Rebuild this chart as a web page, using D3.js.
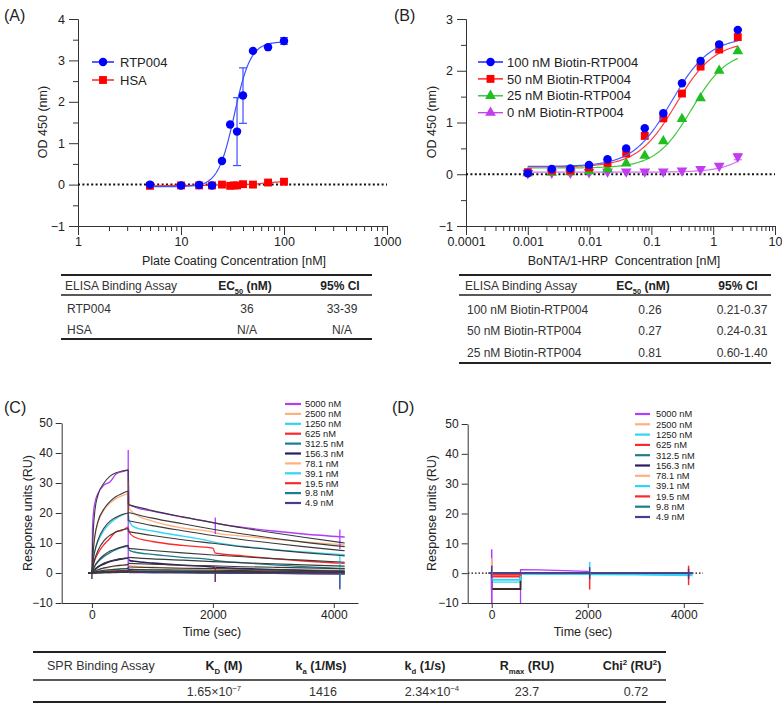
<!DOCTYPE html>
<html>
<head>
<meta charset="utf-8">
<script src="https://cdn.jsdelivr.net/npm/d3@7"></script>
<style>
  body { margin: 0; background: #fff; }
  svg { display: block; font-family: "Liberation Sans", Arial, sans-serif; }
  .narrow { font-family: "Liberation Sans Narrow", "Arial Narrow", "Liberation Sans", sans-serif; }
  .axis path, .axis line { stroke: #333; }
  .axis text { fill: #222; }
</style>
</head>
<body>
<div id="wrapper"></div>
<script>
// ---------- panel A : ELISA, plate coating ----------
const concA = [5, 10, 15, 20, 25, 30, 35, 40, 50, 70, 100];
const rtp004 = [0.0, -0.02, -0.01, -0.02, 0.57, 1.45, 1.28, 2.15, 3.23, 3.32, 3.47];
const rtp004Err = [0, 0, 0, 0, 0, 0, 0.82, 0.67, 0, 0, 0.08];
const concHSA = [5, 10, 15, 20, 25, 30, 32.5, 35, 40, 50, 70, 100];
const hsa = [-0.03, -0.02, -0.02, -0.02, 0.0, -0.03, -0.02, -0.02, 0.01, 0.0, 0.05, 0.07];
// 4PL fit: bottom, top, EC50, hill
const fitRTP004 = [-0.05, 3.45, 33, 5.5];
const tableARows = [["RTP004", "36", "33-39"], ["HSA", "N/A", "N/A"]];

// ---------- panel B : ELISA, BoNTA/1-HRP ----------
const concB = [0.001, 0.00244, 0.00488, 0.00977, 0.0195, 0.0391, 0.0781, 0.156, 0.3125, 0.625, 1.25, 2.5];
const b100 = [0.02, 0.10, 0.11, 0.18, 0.29, 0.50, 0.89, 1.18, 1.76, 2.19, 2.51, 2.79];
const b50 = [0.04, 0.07, 0.07, 0.13, 0.22, 0.40, 0.74, 1.08, 1.56, 2.08, 2.41, 2.65];
const b25 = [0.02, 0.03, 0.04, 0.06, 0.10, 0.21, 0.36, 0.64, 1.07, 1.47, 2.00, 2.38];
const b0 = [0.02, 0.03, 0.03, 0.04, 0.05, 0.05, 0.05, 0.05, 0.07, 0.10, 0.16, 0.34];
const b0Err = [0, 0, 0, 0, 0, 0, 0, 0, 0, 0, 0, 0.06];
const fitB100 = [0.15, 2.65, 0.21, 1.4];
const fitB50 = [0.14, 2.57, 0.25, 1.4];
const fitB25 = [0.12, 2.40, 0.45, 1.5];
const fitB0 = [0.04, 2.5, 12, 1.5];
const seriesB = ["100 nM Biotin-RTP004", "50 nM Biotin-RTP004", "25 nM Biotin-RTP004", "0 nM Biotin-RTP004"];
const tableBRows = [["100 nM Biotin-RTP004", "0.26", "0.21-0.37"],
                    ["50 nM Biotin-RTP004", "0.27", "0.24-0.31"],
                    ["25 nM Biotin-RTP004", "0.81", "0.60-1.40"]];

// ---------- panel C : SPR sensorgrams (data + 1:1 fits) ----------
const sprConc = ["5000 nM", "2500 nM", "1250 nM", "625 nM", "312.5 nM", "156.3 nM",
                 "78.1 nM", "39.1 nM", "19.5 nM", "9.8 nM", "4.9 nM"];
const tOn = [-60, 0, 10, 25, 50, 100, 200, 300, 400, 500, 600];
const onC = [
  [0, 0, 15, 20, 23.5, 26.5, 29.3, 30.4, 33, 33.8, 34.4],
  [0, 0, 4, 8.5, 12.4, 16.8, 21, 23.3, 24.8, 25.8, 26.5],
  [0, 0, 2.5, 5.2, 7.5, 10.5, 14.3, 16.6, 18.2, 19.3, 20],
  [0, 0, 1.5, 3, 4.5, 6.6, 9.5, 11.6, 13.8, 14.2, 15.4],
  [0, 0, 0.7, 1.5, 2.4, 3.7, 5.5, 6.8, 7.8, 8.5, 9],
  [0, 0, 0.3, 0.7, 1.2, 2, 3, 3.8, 4.3, 4.7, 5],
  [0, 0, 0.2, 0.4, 0.6, 1.0, 1.6, 2.0, 2.4, 2.6, 2.8],
  [0, 0, 0.1, 0.2, 0.3, 0.5, 0.8, 1.0, 1.2, 1.4, 1.5],
  [0, 0, 0.05, 0.1, 0.15, 0.3, 0.45, 0.6, 0.7, 0.8, 0.9],
  [0, 0, 0, 0.05, 0.1, 0.15, 0.25, 0.3, 0.4, 0.45, 0.5],
  [0, 0, 0, 0, 0.05, 0.1, 0.15, 0.2, 0.2, 0.25, 0.3]
];
const tOff = [620, 700, 1000, 1500, 2000, 2040, 2500, 3000, 3500, 4180];
const offC = [
  [22.8, 22.0, 20.6, 18.6, 16.8, 16.6, 15.2, 14.0, 13.0, 12.0],
  [21.5, 19.8, 17.3, 15.0, 13.6, 13.4, 12.3, 11.3, 10.4, 9.4],
  [17.2, 15.3, 14.0, 12.3, 10.4, 10.2, 8.9, 7.9, 7.0, 6.1],
  [13.5, 12.0, 10.5, 9.2, 8.3, 6.6, 5.7, 4.8, 4.0, 3.2],
  [7.6, 7.0, 6.2, 5.2, 4.4, 4.2, 3.4, 2.7, 2.1, 1.5],
  [4.2, 3.9, 3.3, 2.6, 2.0, 1.9, 1.5, 1.1, 0.8, 0.5],
  [2.4, 2.2, 1.9, 1.5, 1.2, 1.1, 0.9, 0.6, 0.4, 0.2],
  [1.2, 1.1, 0.9, 0.7, 0.5, 0.4, 0.3, 0.1, 0, -0.1],
  [0.7, 0.6, 0.5, 0.4, 0.2, 0.2, 0.1, 0, -0.1, -0.2],
  [0.4, 0.35, 0.3, 0.2, 0.1, 0.1, 0, -0.1, -0.1, -0.2],
  [0.2, 0.2, 0.1, 0.1, 0, 0, -0.1, -0.1, -0.2, -0.2]
];
const fitOnC = [
  [0, 0, 8, 15, 21, 26, 30, 32.3, 33.4, 34, 34.3],
  [0, 0, 3.5, 8, 12.6, 17.2, 21.4, 23.9, 25.5, 26.5, 27.3],
  [0, 0, 2, 4.8, 7.5, 11, 15, 17.3, 18.6, 19.5, 20],
  [0, 0, 1.2, 2.8, 4.8, 7.5, 10.8, 12.6, 13.7, 14.4, 14.8],
  [0, 0, 0.6, 1.4, 2.5, 4, 6, 7.3, 8.1, 8.7, 9.2],
  [0, 0, 0.3, 0.7, 1.3, 2.1, 3.3, 4.0, 4.5, 4.8, 5.0],
  [0, 0, 0.15, 0.35, 0.65, 1.1, 1.7, 2.1, 2.4, 2.6, 2.8],
  [0, 0, 0.08, 0.18, 0.33, 0.55, 0.9, 1.1, 1.25, 1.4, 1.5],
  [0, 0, 0.04, 0.09, 0.17, 0.28, 0.45, 0.55, 0.63, 0.7, 0.75],
  [0, 0, 0.02, 0.05, 0.08, 0.14, 0.22, 0.28, 0.32, 0.35, 0.38],
  [0, 0, 0.01, 0.02, 0.04, 0.07, 0.11, 0.14, 0.16, 0.18, 0.19]
];
const tFitOff = [600, 1000, 1500, 2000, 2500, 3000, 3500, 4180];
const fitOffC = [
  [22.8, 20.8, 18.7, 16.8, 15.0, 13.4, 11.9, 10.0],
  [20.2, 18.3, 16.4, 14.6, 13.0, 11.6, 10.3, 8.8],
  [17.4, 15.8, 14.1, 12.5, 11.1, 9.9, 8.8, 7.4],
  [13.8, 12.5, 11.1, 9.9, 8.7, 7.7, 6.8, 5.7],
  [8.2, 7.5, 6.7, 6.0, 5.4, 4.8, 4.3, 3.6],
  [5.2, 4.7, 4.3, 3.8, 3.4, 3.1, 2.7, 2.3],
  [3.2, 2.9, 2.6, 2.4, 2.1, 1.9, 1.7, 1.4],
  [2.0, 1.8, 1.6, 1.5, 1.3, 1.2, 1.0, 0.9],
  [1.2, 1.1, 1.0, 0.9, 0.8, 0.7, 0.6, 0.5],
  [0.7, 0.6, 0.6, 0.5, 0.5, 0.4, 0.4, 0.3],
  [0.4, 0.35, 0.3, 0.3, 0.25, 0.2, 0.2, 0.2]
];
// injection spikes: time, low, high, series index
const spikesC = [[0, -2, 1, 5], [600, 0, 41, 0], [600, 20, 30.5, 1], [2040, 13, 18.5, 0],
                 [2040, -3, 2, 3], [2040, -3, 0.5, 10], [4100, 8, 14.5, 0], [4100, -5, 6, 2],
                 [4100, -5.5, 0.5, 10]];

// ---------- panel D : SPR control surface ----------
const onLevelD = [-14, -0.3, -3.0, -1.2, 0, -5.3, 0, -2.2, -0.6, 0, 0.1];
const tOffD = [600, 1000, 2000, 2040, 3000, 4180];
const offD = [
  [1.2, 1.1, 0.6, 0.1, 0, -0.1],
  [0.1, 0, 0, 0, -0.1, -0.2],
  [-0.2, -0.3, -0.4, -0.5, -0.6, -0.8],
  [0, 0, -0.1, -0.1, -0.1, -0.2],
  [0, 0, 0, 0, -0.1, -0.1],
  [0, 0, 0, 0, 0, 0],
  [0, 0, 0, 0, -0.1, -0.1],
  [-0.1, -0.2, -0.2, -0.3, -0.3, -0.5],
  [0, 0, 0, 0, 0, 0],
  [0.1, 0.1, 0, 0, 0, 0],
  [0.1, 0.1, 0.1, 0, 0, 0]
];
const spikesD = [[0, -10, 8, 0], [0, -1, 5, 1], [0, -1.5, 2.5, 10], [2040, -1, 3.8, 2],
                 [2040, -5.5, 0, 3], [2040, -2, 2, 10], [4100, -4, 2.5, 3], [4100, -2, 1.5, 10]];

// ---------- SPR table ----------
const sprHead = [[["K"], ["D", "sub"], [" (M)"]], [["k"], ["a", "sub"], [" (1/Ms)"]],
                 [["k"], ["d", "sub"], [" (1/s)"]], [["R"], ["max", "sub"], [" (RU)"]],
                 [["Chi"], ["2", "sup"], [" (RU"], ["2", "sup"], [")"]]];
const sprVals = [[["1.65×10"], ["−7", "sup"]], [["1416"]], [["2.34×10"], ["−4", "sup"]], [["23.7"]], [["0.72"]]];

// ---------- styles ----------
const sprColors = ["#b03cff", "#ffb07c", "#30d4f4", "#ff2828", "#1d7d8c", "#2c1d60",
                   "#ffb07c", "#30d4f4", "#ff2828", "#1d7d8c", "#4a3c8c"];

const svg = d3.select("#wrapper").append("svg").attr("width", 782).attr("height", 707);

function richText(g, x, y, parts, anchor, size, weight) {
  const t = g.append("text").attr("x", x).attr("y", y).attr("text-anchor", anchor)
    .attr("font-size", size).attr("font-weight", weight || "normal").attr("fill", "#222");
  let shift = 0;
  parts.forEach(p => {
    const k = p[1] || "";
    const target = k === "sub" ? size * 0.3 : k === "sup" ? -size * 0.4 : 0;
    t.append("tspan").attr("dy", target - shift).attr("font-size", k ? size * 0.62 : size).text(p[0]);
    shift = target;
  });
  return t;
}

function fourPL(p) {
  return x => p[0] + (p[1] - p[0]) / (1 + Math.pow(p[2] / x, p[3]));
}

function logAxes(g, x, y, yTicks, yHalf, xTicks, fmt) {
  const [x0] = x.range();
  const [y0] = y.range();
  g.append("g").attr("class", "axis").attr("transform", `translate(${x0},0)`)
    .call(d3.axisLeft(y).tickValues(yHalf).tickSize(5).tickSizeOuter(0).tickFormat(""));
  g.append("g").attr("class", "axis").attr("transform", `translate(${x0},0)`)
    .call(d3.axisLeft(y).tickValues(yTicks).tickSize(9).tickPadding(4).tickSizeOuter(0).tickFormat(d3.format("d")))
    .attr("font-size", 12.5).attr("font-family", null);
  const minor = [];
  xTicks.slice(0, -1).forEach(d => { for (let m = 2; m < 10; m++) minor.push(d * m); });
  g.append("g").attr("class", "axis").attr("transform", `translate(0,${y0})`)
    .call(d3.axisBottom(x).tickValues(minor).tickSize(5).tickSizeOuter(0).tickFormat(""));
  g.append("g").attr("class", "axis").attr("transform", `translate(0,${y0})`)
    .call(d3.axisBottom(x).tickValues(xTicks).tickSize(9).tickPadding(2).tickSizeOuter(0).tickFormat(fmt))
    .attr("font-size", 12.5).attr("font-family", null);
  // dotted zero line
  g.append("line").attr("x1", x.range()[0]).attr("x2", x.range()[1])
    .attr("y1", y(0)).attr("y2", y(0))
    .attr("stroke", "#111").attr("stroke-width", 2).attr("stroke-dasharray", "2,2.4");
}

function drawSeries(g, x, y, xs, ys, errs, color, symbol, rotate, fit, fitColor, domain) {
  if (fit) {
    const f = fourPL(fit);
    const pts = d3.range(0, 201).map(i => {
      const lx = Math.log10(domain[0]) + (Math.log10(domain[1]) - Math.log10(domain[0])) * i / 200;
      return [Math.pow(10, lx), f(Math.pow(10, lx))];
    });
    g.append("path").attr("d", d3.line().x(d => x(d[0])).y(d => y(d[1]))(pts))
      .attr("fill", "none").attr("stroke", fitColor).attr("stroke-width", 1.2);
  } else {
    g.append("path").attr("d", d3.line().x((d, i) => x(xs[i])).y(d => y(d))(ys))
      .attr("fill", "none").attr("stroke", fitColor).attr("stroke-width", 1.2);
  }
  if (errs) {
    xs.forEach((c, i) => {
      if (!errs[i]) return;
      const cx = x(c);
      const eg = g.append("g").attr("stroke", fitColor).attr("stroke-width", 1.2);
      eg.append("line").attr("x1", cx).attr("x2", cx).attr("y1", y(ys[i] - errs[i])).attr("y2", y(ys[i] + errs[i]));
      [ys[i] - errs[i], ys[i] + errs[i]].forEach(v =>
        eg.append("line").attr("x1", cx - 4).attr("x2", cx + 4).attr("y1", y(v)).attr("y2", y(v)));
    });
  }
  g.append("g").selectAll("path").data(ys).join("path")
    .attr("d", d3.symbol(symbol[0], symbol[1]))
    .attr("transform", (d, i) => `translate(${x(xs[i])},${y(d)}) rotate(${rotate})`)
    .attr("fill", color);
}

function legendRow(g, x1, x2, y, color, symbol, rotate, label, tx, size) {
  g.append("line").attr("x1", x1).attr("x2", x2).attr("y1", y).attr("y2", y)
    .attr("stroke", color).attr("stroke-width", 1.3);
  g.append("path").attr("d", d3.symbol(symbol[0], symbol[1]))
    .attr("transform", `translate(${(x1 + x2) / 2},${y}) rotate(${rotate})`).attr("fill", color);
  g.append("text").attr("x", tx).attr("y", y + size * 0.36).attr("font-size", size)
    .attr("fill", "#222").text(label);
}

function elisaTable(g, x0, x1, top, mid, bot, cols, headY, rowYs, rows, valCols) {
  [top, mid, bot].forEach((yy, i) => g.append("line").attr("x1", x0).attr("x2", x1)
    .attr("y1", yy).attr("y2", yy).attr("stroke", "#222").attr("stroke-width", i === 1 ? 1.6 : 2));
  richText(g, cols[0], headY, [["ELISA Binding Assay"]], "start", 12, "normal").attr("fill", "#333");
  richText(g, cols[1], headY, [["EC"], ["50", "sub"], [" (nM)"]], "middle", 12, "bold");
  richText(g, cols[2], headY, [["95% CI"]], "middle", 12, "bold");
  rows.forEach((r, i) => {
    richText(g, cols[0] + 2, rowYs[i], [[r[0]]], "start", 12, "normal").attr("fill", "#333");
    richText(g, valCols[0], rowYs[i], [[r[1]]], "middle", 12, "normal").attr("fill", "#333");
    richText(g, valCols[1], rowYs[i], [[r[2]]], "middle", 12, "normal").attr("fill", "#333");
  });
}

// ================= Panel A =================
const gA = svg.append("g");
const xA = d3.scaleLog().domain([1, 1000]).range([78, 387]);
const yA = d3.scaleLinear().domain([-1, 4]).range([226, 19]);
logAxes(gA, xA, yA, [-1, 0, 1, 2, 3, 4], d3.range(-0.5, 4, 1), [1, 10, 100, 1000], d3.format(""));
drawSeries(gA, xA, yA, concHSA, hsa, null, "#ff0000", [d3.symbolSquare, 62], 0, null, "#ff3030");
drawSeries(gA, xA, yA, concA, rtp004, rtp004Err, "#0000ff", [d3.symbolCircle, 56], 0, fitRTP004, "#3c50ff", [5, 100]);
legendRow(gA, 92, 114, 62, "#0000ff", [d3.symbolCircle, 56], 0, "RTP004", 120, 13);
legendRow(gA, 92, 114, 80, "#ff0000", [d3.symbolSquare, 62], 0, "HSA", 120, 13);
gA.append("text").attr("x", 234).attr("y", 265).attr("text-anchor", "middle").attr("font-size", 12.5)
  .attr("fill", "#222").text("Plate Coating Concentration [nM]");
gA.append("text").attr("transform", "translate(47,122) rotate(-90)").attr("text-anchor", "middle")
  .attr("font-size", 12.5).attr("fill", "#222").text("OD 450 (nm)");
gA.append("text").attr("x", 4).attr("y", 21).attr("font-size", 16).attr("fill", "#222").text("(A)");
elisaTable(gA, 61, 372, 275, 295, 339, [65, 245, 340], 290, [313, 334], tableARows, [247, 342]);

// ================= Panel B =================
const gB = svg.append("g");
const xB = d3.scaleLog().domain([0.0001, 10]).range([466, 775]);
const yB = d3.scaleLinear().domain([-1, 3]).range([226, 19]);
logAxes(gB, xB, yB, [-1, 0, 1, 2, 3], d3.range(-0.5, 3, 1), [0.0001, 0.001, 0.01, 0.1, 1, 10], d => String(d));
const bSets = [
  [b0, b0Err, "#c23cf0", [d3.symbolTriangle, 50], 180, fitB0, "#d070f4"],
  [b25, null, "#1fbf1f", [d3.symbolTriangle, 50], 0, fitB25, "#40c840"],
  [b50, null, "#ff0000", [d3.symbolSquare, 62], 0, fitB50, "#ff4040"],
  [b100, null, "#0000ff", [d3.symbolCircle, 56], 0, fitB100, "#4a5cff"]
];
bSets.forEach(s => drawSeries(gB, xB, yB, concB, s[0], s[1], s[2], s[3], s[4], s[5], s[6], [0.001, 2.5]));
bSets.slice().reverse().forEach((s, i) =>
  legendRow(gB, 478, 503, 62 + i * 16.9, s[2], s[3], 0, seriesB[i], 507, 13));
gB.append("text").attr("x", 624).attr("y", 265).attr("text-anchor", "middle").attr("font-size", 12.5)
  .attr("fill", "#222").attr("xml:space", "preserve").text("BoNTA/1-HRP  Concentration [nM]");
gB.append("text").attr("transform", "translate(436,122) rotate(-90)").attr("text-anchor", "middle")
  .attr("font-size", 12.5).attr("fill", "#222").text("OD 450 (nm)");
gB.append("text").attr("x", 394).attr("y", 21).attr("font-size", 16).attr("fill", "#222").text("(B)");
elisaTable(gB, 459, 771, 275, 295, 363, [465, 643, 738], 290, [314, 335, 357], tableBRows, [650, 742]);

// ================= SPR panels =================
function sprAxes(g, x, y) {
  g.append("g").attr("class", "axis").attr("transform", `translate(${x.range()[0]},0)`)
    .call(d3.axisLeft(y).tickValues([-10, 0, 10, 20, 30, 40, 50]).tickSize(6).tickSizeOuter(0).tickFormat(d3.format("d")))
    .attr("font-size", 12).attr("font-family", null);
  g.append("g").attr("class", "axis").attr("transform", `translate(0,${y.range()[0]})`)
    .call(d3.axisBottom(x).tickValues([0, 2000, 4000]).tickSize(5).tickPadding(2).tickSizeOuter(0).tickFormat(d3.format("")))
    .attr("font-size", 12).attr("font-family", null);
}

function sprLegend(g, x1, x2, tx, y0, dy) {
  sprConc.forEach((c, i) => {
    g.append("line").attr("x1", x1).attr("x2", x2).attr("y1", y0 + i * dy).attr("y2", y0 + i * dy)
      .attr("stroke", sprColors[i]).attr("stroke-width", 2.2);
    g.append("text").attr("class", "narrow").attr("x", tx).attr("y", y0 + i * dy + 3.3)
      .attr("font-size", 9.3).attr("fill", "#222").text(c);
  });
}

function sprLabels(g, cx, cy, ylx, label, lx) {
  g.append("text").attr("class", "narrow").attr("x", cx).attr("y", 636).attr("text-anchor", "middle")
    .attr("font-size", 12.5).attr("fill", "#222").text("Time (sec)");
  g.append("text").attr("transform", `translate(${ylx},${cy}) rotate(-90)`).attr("text-anchor", "middle")
    .attr("font-size", 12.5).attr("fill", "#222").text("Response units (RU)");
  g.append("text").attr("x", lx).attr("y", 413).attr("font-size", 16).attr("fill", "#222").text(label);
}

const lineT = (x, y) => d3.line().x(d => x(d[0])).y(d => y(d[1])).curve(d3.curveMonotoneX);

// ----- C -----
const gC = svg.append("g");
const xC = d3.scaleLinear().domain([-500, 4400]).range([61.7, 358]);
const yC = d3.scaleLinear().domain([-10, 50]).range([603, 423]);
svg.append("clipPath").attr("id", "clipC").append("rect").attr("x", 62).attr("y", 420).attr("width", 300).attr("height", 183);
const plotC = gC.append("g").attr("clip-path", "url(#clipC)");
const lnC = lineT(xC, yC);
sprConc.forEach((c, i) => {
  const on = tOn.map((t, j) => [t, onC[i][j]]);
  const off = tOff.map((t, j) => [t, offC[i][j]]);
  const w = i < 5 ? 1.3 : 1.6;
  plotC.append("path").attr("d", lnC(on)).attr("fill", "none").attr("stroke", sprColors[i]).attr("stroke-width", w);
  plotC.append("path").attr("d", lnC([[600, onC[i][onC[i].length - 1]], ...off]))
    .attr("fill", "none").attr("stroke", sprColors[i]).attr("stroke-width", w);
});
spikesC.forEach(s => plotC.append("line").attr("x1", xC(s[0])).attr("x2", xC(s[0]))
  .attr("y1", yC(s[1])).attr("y2", yC(s[2])).attr("stroke", sprColors[s[3]]).attr("stroke-width", 1.3));
sprConc.forEach((c, i) => {
  const on = tOn.map((t, j) => [t, fitOnC[i][j]]);
  const off = tFitOff.map((t, j) => [t, fitOffC[i][j]]);
  const endOn = fitOnC[i][fitOnC[i].length - 1];
  plotC.append("path").attr("d", lnC(on)).attr("fill", "none").attr("stroke", "#3a3a3a").attr("stroke-width", 1.1);
  plotC.append("path").attr("d", lnC(off)).attr("fill", "none").attr("stroke", "#3a3a3a").attr("stroke-width", 1.1);
  plotC.append("line").attr("x1", xC(600)).attr("x2", xC(600)).attr("y1", yC(endOn)).attr("y2", yC(fitOffC[i][0]))
    .attr("stroke", "#3a3a3a").attr("stroke-width", 1.1);
});
sprAxes(gC, xC, yC);
sprLegend(gC, 285, 301, 305, 404, 9.9);
sprLabels(gC, 212, 513, 32, "(C)", 4);

// ----- D -----
const gD = svg.append("g");
const xD = d3.scaleLinear().domain([-500, 4400]).range([467.7, 703]);
const yD = d3.scaleLinear().domain([-10, 50]).range([603, 424]);
svg.append("clipPath").attr("id", "clipD").append("rect").attr("x", 468).attr("y", 420).attr("width", 240).attr("height", 183);
const plotD = gD.append("g").attr("clip-path", "url(#clipD)");
plotD.append("line").attr("x1", 468).attr("x2", 703).attr("y1", yD(0)).attr("y2", yD(0))
  .attr("stroke", "#111").attr("stroke-width", 1.3).attr("stroke-dasharray", "1.5,2");
const lnD = d3.line().x(d => xD(d[0])).y(d => yD(d[1]));
sprConc.forEach((c, i) => {
  const L = onLevelD[i];
  const col = i === 5 ? "#3b2a26" : sprColors[i];
  const w = i >= 5 ? 1.8 : 1.3;
  plotD.append("path").attr("d", lnD([[-60, 0], [0, 0], [0, L], [600, L], [600, offD[i][0]], ...tOffD.map((t, j) => [t, offD[i][j]])]))
    .attr("fill", "none").attr("stroke", col).attr("stroke-width", w);
});
spikesD.forEach(s => plotD.append("line").attr("x1", xD(s[0])).attr("x2", xD(s[0]))
  .attr("y1", yD(s[1])).attr("y2", yD(s[2])).attr("stroke", sprColors[s[3]]).attr("stroke-width", 1.5));
sprAxes(gD, xD, yD);
sprLegend(gD, 635, 650, 656, 414, 10.3);
sprLabels(gD, 583, 513, 436, "(D)", 392);

// ================= SPR table =================
const gT = svg.append("g").attr("class", "narrow");
[[652, 2], [680, 1.6], [702, 2]].forEach(r => gT.append("line").attr("x1", 33).attr("x2", 666)
  .attr("y1", r[0]).attr("y2", r[0]).attr("stroke", "#222").attr("stroke-width", r[1]));
richText(gT, 47, 670, [["SPR Binding Assay"]], "start", 12.5, "normal").attr("fill", "#333");
const headX = [224, 321, 425, 527, 632];
const valX = [214, 323, 432, 527, 636];
sprHead.forEach((h, i) => richText(gT, headX[i], 670, h, "middle", 12.5, "bold"));
sprVals.forEach((v, i) => richText(gT, valX[i], 696, v, "middle", 12.5, "normal").attr("fill", "#333"));
</script>
</body>
</html>
